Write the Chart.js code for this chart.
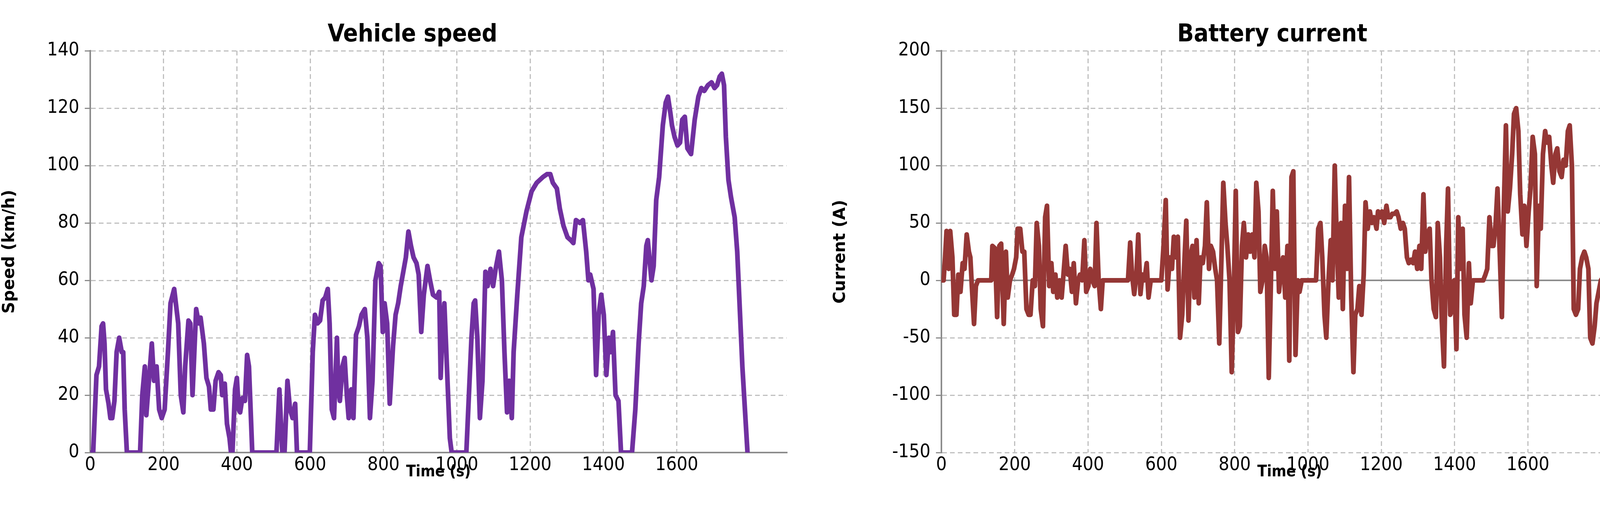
<!DOCTYPE html>
<html><head><meta charset="utf-8">
<script src="https://cdn.jsdelivr.net/npm/chart.js@4.4.1/dist/chart.umd.min.js"></script>
<style>
html,body{margin:0;padding:0;background:#fff;width:4255px;height:1342px;overflow:hidden}
.c{position:absolute;top:0;height:1342px}
.t{position:absolute;font-family:"DejaVu Sans Condensed","DejaVu Sans";font-weight:bold;font-size:62px;color:#000;transform:translate(-50%,-50%);white-space:nowrap;top:84px}
</style></head><body>
<div class="c" style="left:0;width:2127px"><canvas id="a" width="2127" height="1342" style="width:2127px;height:1342px"></canvas></div>
<div class="c" style="left:2127px;width:2128px"><canvas id="b" width="2128" height="1342" style="width:2128px;height:1342px"></canvas></div>
<div class="t" style="left:1056px">Vehicle speed</div>
<div class="t" style="left:3257px">Battery current</div>
<script>
const speedTime=[0,8,17,24,31,35,39,43,50,55,60,66,72,79,86,90,94,100,136,142,149,153,160,168,174,181,188,195,203,212,219,229,240,247,254,259,268,273,279,289,296,301,310,317,324,329,336,342,350,356,360,367,373,380,384,388,395,400,405,409,415,422,428,433,442,508,516,524,530,538,545,552,559,564,599,607,613,620,627,634,641,648,653,659,665,673,677,681,688,694,700,705,712,718,725,733,740,749,756,763,770,778,787,792,798,803,810,817,826,833,840,847,854,861,868,875,882,890,896,903,910,920,927,935,945,952,956,960,966,973,981,986,1026,1033,1040,1046,1050,1056,1063,1070,1078,1084,1092,1099,1106,1115,1123,1130,1137,1143,1150,1155,1165,1176,1190,1204,1218,1235,1246,1255,1262,1273,1281,1291,1302,1311,1318,1325,1336,1344,1353,1359,1364,1373,1380,1387,1394,1401,1408,1415,1420,1426,1433,1441,1448,1478,1487,1496,1503,1510,1517,1521,1531,1537,1544,1552,1562,1570,1576,1583,1587,1594,1602,1609,1615,1622,1629,1639,1649,1659,1667,1675,1685,1695,1703,1710,1717,1723,1729,1734,1741,1748,1758,1765,1772,1779,1786,1793];
const speedValues=[0,0,27,30,44,45,38,22,17,12,12,18,35,40,35,35,15,0,0,20,30,13,25,38,25,30,15,12,15,35,52,57,45,20,14,30,46,45,20,50,45,47,38,26,23,15,15,25,28,27,20,24,10,5,0,0,22,26,15,14,19,18,34,30,0,0,22,0,0,25,15,12,17,0,0,35,48,45,46,53,54,57,45,15,12,40,22,18,30,33,20,12,22,12,41,44,48,50,40,12,25,60,66,65,42,52,45,17,37,48,52,58,63,68,77,72,68,66,62,42,55,65,60,55,54,56,26,40,52,30,5,0,0,20,40,52,53,40,12,25,63,58,64,58,64,70,60,35,14,25,12,35,55,75,84,91,94,96,97,97,94,92,85,79,75,74,73,81,80,81,70,60,62,57,27,48,55,48,27,40,35,42,20,18,0,0,15,38,52,58,72,74,60,65,88,96,114,122,124,118,114,110,107,108,116,117,106,104,116,124,127,126,128,129,127,128,131,132,128,110,95,89,82,70,50,30,15,0];
const currentTime=[0,6,10,14,20,24,30,35,41,46,52,58,63,69,75,79,83,89,94,100,105,136,139,146,152,158,163,170,176,181,187,193,198,204,208,215,221,226,232,238,243,249,255,260,266,271,277,283,288,294,300,305,311,316,322,328,333,339,345,350,356,361,367,373,378,384,390,395,401,406,412,418,423,429,435,440,446,509,515,520,526,532,537,543,548,554,560,565,571,600,606,612,617,623,629,634,640,645,651,657,662,668,674,679,685,690,696,702,707,713,719,724,730,735,741,747,752,758,764,769,775,780,786,792,797,803,809,814,820,825,831,837,842,848,854,859,865,870,876,882,887,893,899,904,910,915,921,927,932,938,944,949,955,960,966,972,977,983,1022,1028,1034,1039,1045,1050,1056,1062,1067,1073,1079,1084,1090,1095,1101,1107,1112,1118,1124,1129,1135,1140,1146,1152,1157,1163,1169,1174,1180,1187,1191,1197,1202,1208,1214,1219,1225,1230,1236,1242,1247,1253,1259,1264,1270,1275,1281,1287,1292,1298,1304,1309,1315,1320,1326,1332,1337,1343,1349,1354,1360,1365,1371,1377,1382,1388,1394,1399,1405,1410,1416,1422,1427,1433,1439,1444,1450,1455,1478,1484,1489,1495,1501,1506,1512,1517,1523,1529,1534,1540,1545,1551,1557,1562,1568,1574,1579,1585,1590,1596,1602,1607,1613,1619,1624,1630,1635,1641,1647,1652,1658,1664,1669,1675,1680,1686,1692,1697,1703,1709,1714,1720,1725,1731,1737,1742,1748,1754,1759,1765,1770,1776,1782,1787,1793,1799,1803];
const currentValues=[0,0,20,43,10,43,20,-30,-30,5,-10,15,10,40,25,20,-5,-38,-5,0,0,0,30,28,-32,30,32,-38,25,-15,0,5,10,20,45,45,25,25,-25,-30,-30,0,-5,50,30,-25,-40,55,65,-5,15,-10,5,-15,0,-15,5,30,5,10,-10,15,-20,0,5,0,35,-10,-5,10,0,-5,50,0,-25,0,0,0,33,5,-12,5,40,-12,5,0,15,-15,0,0,30,70,-8,20,10,38,20,38,-50,-30,10,52,-35,20,30,-15,35,-20,20,15,30,68,10,30,25,10,0,-55,20,85,50,30,0,-80,-20,78,-45,-40,30,50,20,40,25,40,20,85,60,-10,0,30,20,-85,0,78,10,60,-10,10,20,-15,30,-70,90,95,-65,0,-10,0,0,45,50,20,-30,-50,0,35,0,100,30,-15,50,-25,65,10,90,-15,-80,-30,-25,-5,-30,5,68,45,60,50,55,45,60,55,60,50,65,55,55,58,58,60,55,45,50,45,20,15,18,15,25,10,30,10,75,25,40,45,0,-25,-32,50,20,-35,-75,30,80,-30,-25,0,-60,55,10,45,-30,-50,15,-20,0,0,0,5,10,55,30,30,50,80,25,-32,60,135,60,80,110,145,150,130,75,40,65,30,60,80,125,110,-5,65,45,110,130,120,125,100,85,110,115,95,90,105,100,130,135,100,-25,-30,-25,10,20,25,20,10,-50,-55,-40,-20,-10,0,2];
const xTicks={min:0,max:1900,step:200,lastLabel:1800};

const tickFont={family:'"DejaVu Sans Condensed","DejaVu Sans"',size:48};
const gridStyle={color:'#c0c0c0',lineWidth:3,tickColor:'#8c8c8c',tickLength:14};
function pts(t,v){return t.map((x,i)=>({x:x,y:v[i]}));}
function drawZero(ch,o){if(!o.on)return;const y=ch.scales.y.getPixelForValue(0),c=ch.ctx;c.save();c.strokeStyle='#8c8c8c';c.lineWidth=4;c.beginPath();c.moveTo(ch.chartArea.left,y);c.lineTo(ch.chartArea.right,y);c.stroke();c.restore();}
const zeroLine={id:'zero',beforeDatasetsDraw(ch,a,o){drawZero(ch,o);}};
function make(id,data,color,ymin,ymax,ystep,ytitle,yw,right,zero){
 return new Chart(document.getElementById(id),{type:'line',
  data:{datasets:[{data:data,borderColor:color,borderWidth:12,pointRadius:0,tension:0,fill:false,borderJoinStyle:'round',borderCapStyle:'round'}]},
  plugins:[zeroLine],
  options:{responsive:false,maintainAspectRatio:false,animation:false,devicePixelRatio:1,
   layout:{padding:{top:130,right:right,left:0,bottom:108}},
   plugins:{legend:{display:false},tooltip:{enabled:false},zero:{on:zero}},
   scales:{
    x:{type:'linear',min:xTicks.min,max:xTicks.max,
     afterBuildTicks(s){s.ticks=s.ticks.filter(t=>t.value<=xTicks.lastLabel);},
     afterFit(s){s.height=75;},
     ticks:{stepSize:xTicks.step,font:tickFont,color:'#000',padding:4,maxRotation:0,autoSkip:false,callback:v=>String(v)},
     grid:{...gridStyle,drawTicks:false},
     border:{display:!zero,color:'#8c8c8c',width:4,dash:[12,8]},
     title:{display:true,text:'Time (s)',color:'#000',font:{family:'"DejaVu Sans Condensed","DejaVu Sans"',weight:'bold',size:40},padding:{top:0,bottom:0}}},
    y:{min:ymin,max:ymax,
     afterFit(s){s.width=yw;},
     ticks:{stepSize:ystep,font:tickFont,color:'#000',padding:14,callback:v=>String(v)},
     grid:gridStyle,
     border:{display:true,color:'#8c8c8c',width:4,dash:[12,8]},
     title:{display:true,text:ytitle,color:'#000',font:{family:'"DejaVu Sans"',weight:'bold',size:42},padding:{top:0,bottom:0}}}
   }}});
}
make('a',pts(speedTime,speedValues),'#7030A0',0,140,20,'Speed (km/h)',231,113,false);
make('b',pts(currentTime,currentValues),'#953735',-150,200,50,'Current (A)',283,62,true);
</script></body></html>
